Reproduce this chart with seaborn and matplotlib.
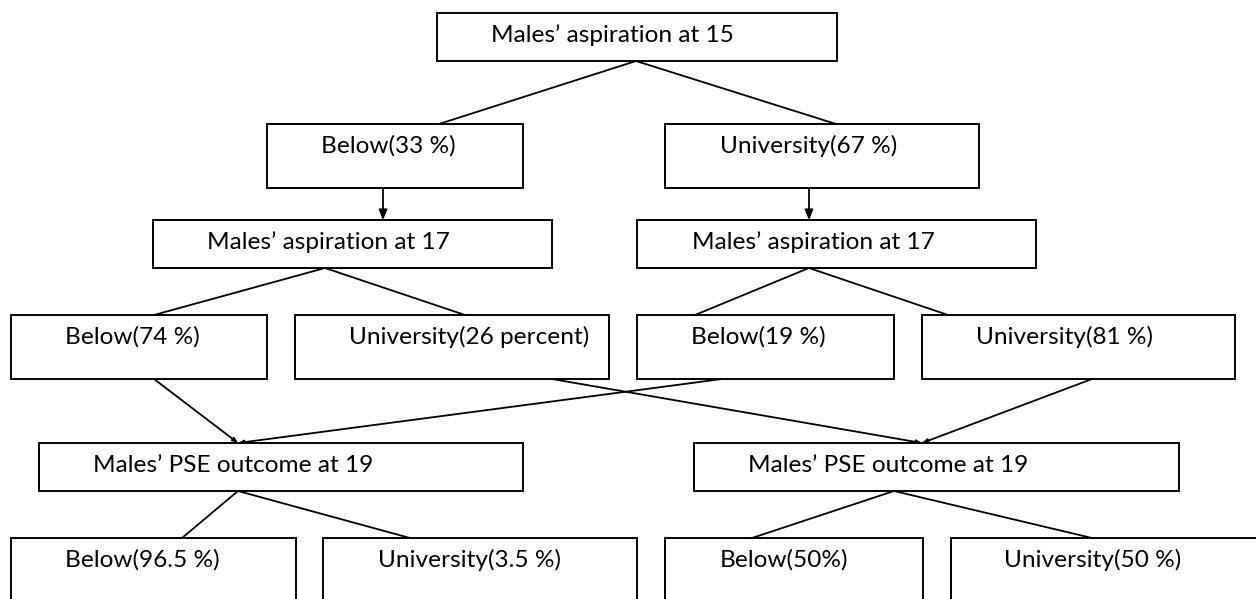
import pandas as pd
import seaborn as sns
import matplotlib
matplotlib.use("Agg")
import matplotlib.pyplot as plt
from matplotlib.patches import Rectangle

# box labels, one list per level of the tree
top_label = ["Males’ aspiration at 15"]
aspiration15_labels = ["Below(33 %)", "University(67 %)"]
aspiration17_labels = ["Males’ aspiration at 17", "Males’ aspiration at 17"]
split17_labels = ["Below(74 %)", "University(26 percent)", "Below(19 %)", "University(81 %)"]
outcome_labels = ["Males’ PSE outcome at 19", "Males’ PSE outcome at 19"]
split19_labels = ["Below(96.5 %)", "University(3.5 %)", "Below(50%)", "University(50 %)"]

# layout (pixels): row top/bottom, box left/right, text left
row_y = [(13, 61), (124, 188), (220, 268), (315, 379), (443, 491), (538, 640)]
row_x = [
    [(437, 837)],
    [(267, 523), (665, 979)],
    [(153, 552), (637, 1036)],
    [(11, 267), (295, 609), (637, 894), (922, 1235)],
    [(39, 523), (694, 1179)],
    [(11, 296), (323, 637), (665, 923), (951, 1290)],
]
text_x = [[491], [321, 720], [207, 692], [65, 349, 691, 976], [93, 748], [65, 378, 720, 1004]]
text_drop = 29  # baseline below the box top

# plain connectors (segment id, x, y)
links = pd.DataFrame({
    "seg": [0, 0, 1, 1, 2, 2, 3, 3, 4, 4, 5, 5, 6, 6, 7, 7, 8, 8, 9, 9],
    "x": [636, 439, 636, 836, 325, 154, 325, 465, 809, 695, 809, 948,
          238, 182, 238, 410, 894, 752, 894, 1092],
    "y": [61, 124, 61, 124, 268, 315, 268, 315, 268, 315, 268, 315,
          491, 538, 491, 538, 491, 538, 491, 538],
})
# arrows: start -> end
arrows_big = [((383, 188), (383, 220)), ((809, 188), (809, 220))]
arrows_small = [((154, 379), (238, 443)), ((722, 379), (238, 443)),
                ((552, 379), (922, 443)), ((1092, 379), (922, 443))]

sns.set_style("white")
plt.rcParams["font.family"] = ["Lato", "DejaVu Sans"]

fig = plt.figure(figsize=(12.56, 5.99), dpi=100)
ax = fig.add_axes([0, 0, 1, 1])

sns.lineplot(data=links, x="x", y="y", units="seg", estimator=None, sort=False,
             color="black", linewidth=1.3, ax=ax)

for (a, b) in arrows_big:
    ax.annotate("", xy=b, xytext=a,
                arrowprops=dict(arrowstyle="-|>,head_length=0.6,head_width=0.25",
                                color="black", lw=1.3, shrinkA=0, shrinkB=0))
for (a, b) in arrows_small:
    ax.annotate("", xy=b, xytext=a,
                arrowprops=dict(arrowstyle="-|>,head_length=0.3,head_width=0.12",
                                color="black", lw=1.3, shrinkA=0, shrinkB=0))

levels = [top_label, aspiration15_labels, aspiration17_labels,
          split17_labels, outcome_labels, split19_labels]
for r, labels in enumerate(levels):
    y0, y1 = row_y[r]
    for i, lab in enumerate(labels):
        x0, x1 = row_x[r][i]
        ax.add_patch(Rectangle((x0, y0), x1 - x0, y1 - y0, fill=True,
                               facecolor="white", edgecolor="black", lw=1.4, zorder=3))
        ax.text(text_x[r][i], y0 + text_drop, lab, fontsize=17.6,
                ha="left", va="baseline", color="black", zorder=4)

ax.set_xlim(0, 1256)
ax.set_ylim(599, 0)
ax.axis("off")

fig.savefig("out.png", dpi=100)
